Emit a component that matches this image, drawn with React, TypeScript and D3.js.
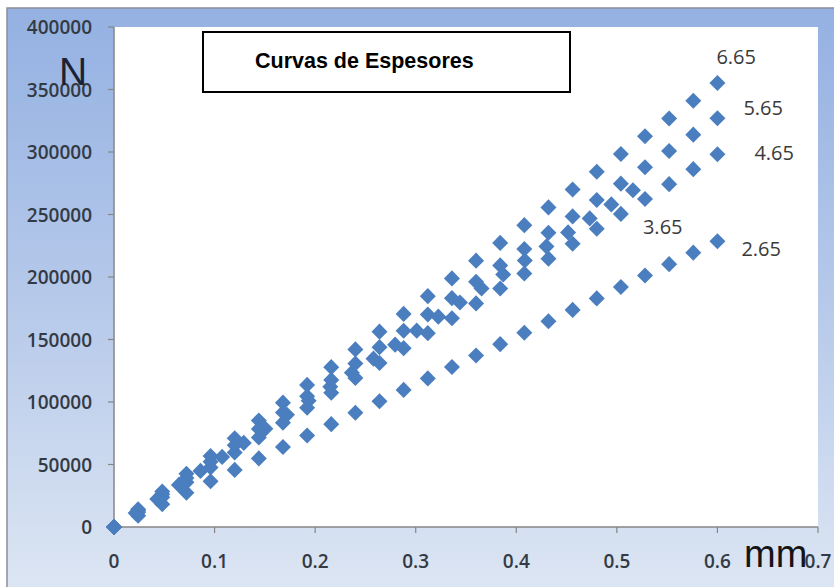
import React from "react";
import * as d3 from "d3";

// ---- data ----
const xStd = [0, 0.024, 0.048, 0.072, 0.096, 0.12, 0.144, 0.168, 0.192, 0.216, 0.24, 0.264, 0.288, 0.312, 0.336, 0.36, 0.384, 0.408, 0.432, 0.456, 0.48, 0.504, 0.528, 0.552, 0.576, 0.6];
const x365 = [0, 0.0215, 0.043, 0.0645, 0.086, 0.1075, 0.129, 0.1505, 0.172, 0.1935, 0.215, 0.2365, 0.258, 0.2795, 0.301, 0.3225, 0.344, 0.3655, 0.387, 0.4085, 0.43, 0.4515, 0.473, 0.4945, 0.516];

const y265 = [0, 9100, 18300, 27400, 36600, 45700, 54900, 64000, 73200, 82300, 91400, 100600, 109700, 118900, 128000, 137200, 146300, 155400, 164600, 173700, 182900, 192000, 201200, 210300, 219500, 228600];
const y365 = [0, 11200, 22400, 33700, 44900, 56100, 67300, 78600, 89800, 101000, 112200, 123500, 134700, 145900, 157100, 168300, 179600, 190800, 202000, 213200, 224500, 235700, 246900, 258100, 269400];
const y465 = [0, 11900, 23900, 35800, 47700, 59600, 71600, 83500, 95400, 107400, 119300, 131200, 143100, 155100, 167000, 178900, 190800, 202800, 214700, 226600, 238600, 250500, 262400, 274300, 286300, 298200];
const y565 = [0, 13100, 26200, 39200, 52300, 65400, 78500, 91600, 104600, 117700, 130800, 143900, 157000, 170000, 183100, 196200, 209300, 222400, 235400, 248500, 261600, 274700, 287800, 300800, 313900, 327000];
const y665 = [0, 14200, 28400, 42600, 56800, 71000, 85200, 99500, 113700, 127900, 142100, 156300, 170500, 184700, 198900, 213100, 227300, 241500, 255700, 270000, 284200, 298400, 312600, 326800, 341000, 355200];

const seriesNames = ["2.65", "3.65", "4.65", "5.65", "6.65"];
const seriesX = [xStd, x365, xStd, xStd, xStd];
const seriesY = [y265, y365, y465, y565, y665];

const yTicks = [0, 50000, 100000, 150000, 200000, 250000, 300000, 350000, 400000];
const xTicks = [0, 0.1, 0.2, 0.3, 0.4, 0.5, 0.6, 0.7];
const xTickLabels = ["0", "0.1", "0.2", "0.3", "0.4", "0.5", "0.6", "0.7"];

const title = "Curvas de Espesores";
const yAxisTitle = "N";
const xAxisTitle = "mm";

// ---- layout ----
const W = 834;
const H = 587;
const plot = { left: 114, right: 818, top: 27, bottom: 527 };
const labelOffsets: Record<string, [number, number]> = {
  "6.65": [-1, -19],
  "5.65": [26, -3],
  "4.65": [37, 6],
  "3.65": [10, 44],
  "2.65": [24, 15],
};

export default function App() {
  const x = d3.scaleLinear().domain([0, 0.7]).range([plot.left, plot.right]);
  const y = d3.scaleLinear().domain([0, 400000]).range([plot.bottom, plot.top]);
  const diamond = d3.symbol().type(d3.symbolSquare).size(128)() as string;
  const tickFont = "'Open Sans', 'DejaVu Sans', sans-serif";

  return (
    <svg
      width={W}
      height={H}
      style={{ position: "absolute", left: 0, top: 0 }}
      xmlns="http://www.w3.org/2000/svg"
    >
      <defs>
        <linearGradient id="bg" x1="0" y1="0" x2="0" y2="1">
          <stop offset="0" stopColor="#94b1e2" />
          <stop offset="0.5" stopColor="#b6c9ea" />
          <stop offset="1" stopColor="#dde6f3" />
        </linearGradient>
      </defs>
      <rect x={0} y={0} width={W} height={H} fill="#ffffff" />
      <rect x={7} y={8} width={W} height={H} fill="url(#bg)" stroke="#8a8f98" strokeWidth={1.5} />
      <rect
        x={plot.left}
        y={plot.top}
        width={plot.right - plot.left}
        height={plot.bottom - plot.top}
        fill="#ffffff"
      />

      {/* axes */}
      <line x1={plot.left} x2={plot.left} y1={plot.top} y2={plot.bottom} stroke="#868686" strokeWidth={1.5} />
      <line x1={plot.left} x2={plot.right} y1={plot.bottom} y2={plot.bottom} stroke="#868686" strokeWidth={1.5} />
      {yTicks.map((t) => (
        <g key={"y" + t}>
          <line x1={plot.left - 6} x2={plot.left} y1={y(t)} y2={y(t)} stroke="#868686" strokeWidth={1.2} />
          <text
            x={92}
            y={y(t) + 7}
            textAnchor="end"
            fontFamily={tickFont}
            fontSize={19}
            fontWeight={600}
            fill="#333a44"
          >
            {String(t)}
          </text>
        </g>
      ))}
      {xTicks.map((t, i) => (
        <g key={"x" + t}>
          <line x1={x(t)} x2={x(t)} y1={plot.bottom} y2={plot.bottom + 6} stroke="#868686" strokeWidth={1.2} />
          <text
            x={x(t)}
            y={plot.bottom + 41}
            textAnchor="middle"
            fontFamily={tickFont}
            fontSize={19}
            fontWeight={600}
            fill="#333a44"
          >
            {xTickLabels[i]}
          </text>
        </g>
      ))}

      {/* points */}
      {seriesNames.map((name, si) => (
        <g key={name} fill="#4a7ebf">
          {seriesY[si].map((v, i) => (
            <path
              key={i}
              d={diamond}
              transform={`translate(${x(seriesX[si][i])},${y(v)}) rotate(45)`}
            />
          ))}
        </g>
      ))}

      {/* series labels */}
      {seriesNames.map((name, si) => {
        const n = seriesY[si].length - 1;
        const [dx, dy] = labelOffsets[name];
        return (
          <text
            key={"l" + name}
            x={x(seriesX[si][n]) + dx}
            y={y(seriesY[si][n]) + dy}
            fontFamily={tickFont}
            fontSize={20}
            fill="#3a3a3a"
          >
            {name}
          </text>
        );
      })}

      {/* title box */}
      <rect x={203} y={32} width={367} height={60} fill="#ffffff" stroke="#000000" strokeWidth={2} />
      <text
        x={255}
        y={68}
        fontFamily="'Liberation Sans', Arial, sans-serif"
        fontWeight="bold"
        fontSize={21.5}
        fill="#000000"
      >
        {title}
      </text>

      {/* axis titles */}
      <text x={59} y={85} fontFamily="'Liberation Sans', Arial, sans-serif" fontSize={39} fill="#1c2233">
        {yAxisTitle}
      </text>
      <text x={744} y={567} fontFamily="'Liberation Sans', Arial, sans-serif" fontSize={38} fill="#141414">
        {xAxisTitle}
      </text>
    </svg>
  );
}
